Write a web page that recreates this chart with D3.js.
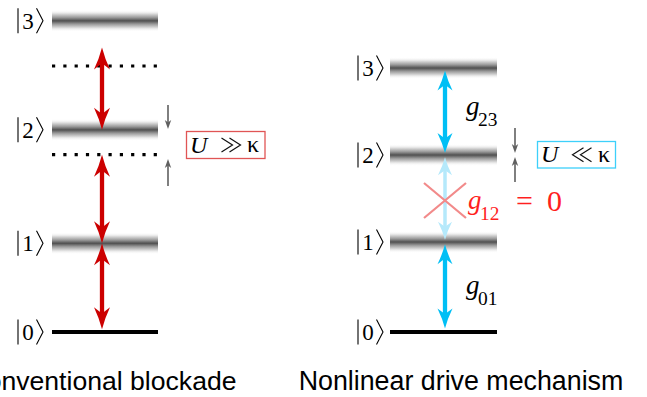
<!DOCTYPE html>
<html><head><meta charset="utf-8">
<script src="https://cdn.jsdelivr.net/npm/d3@7"></script>
<style>html,body{margin:0;padding:0;background:#fff;overflow:hidden}</style>
</head><body>
<svg id="c" width="647" height="397"></svg>
<script>
// ---- data ----
const kets = ["0", "1", "2", "3"];            // |n⟩ state labels
const leftLevels = [0, 1.0, 2.28, 3.51];      // anharmonic levels (blockade)
const leftHarmonic = [2, 3];                  // dotted harmonic reference levels
const leftArrows = [[3.21, 2.28], [2.0, 1.0], [1.0, 0.03]];
const rightLevels = [0, 1.015, 1.996, 2.977];
const rightArrows = [[2.95, 2.02], [0.99, 0.04]];
const rightFaded = [1.97, 1.04];
const couplings = ["g23", "g12", "g01"];
const titles = ["Conventional blockade", "Nonlinear drive mechanism"];
const boxLabels = [["U", "≫", "κ"], ["U", "≪", "κ"]];

const svg = d3.select("#c");
const y = d3.scaleLinear().domain([0, 3]).range([332, 66]);

const defs = svg.append("defs");
const gr = defs.append("linearGradient").attr("id", "lvl").attr("x1", 0).attr("x2", 0).attr("y1", 0).attr("y2", 1);
[[0, "#ffffff", 0], [0.15, "#e8e8e8", 1], [0.35, "#9a9a9a", 1], [0.5, "#505050", 1], [0.65, "#9a9a9a", 1], [0.85, "#e8e8e8", 1], [1, "#ffffff", 0]]
  .forEach(s => gr.append("stop").attr("offset", s[0]).attr("stop-color", s[1]).attr("stop-opacity", s[2]));

const serif = "'Liberation Serif','DejaVu Serif',serif";

function arrow(g, x, yTop, yBot, color, w, hw, hl) {
  g.append("line").attr("x1", x).attr("x2", x).attr("y1", yTop + hl * 0.6).attr("y2", yBot - hl * 0.6)
    .attr("stroke", color).attr("stroke-width", w);
  g.append("path").attr("fill", color)
    .attr("d", `M${x},${yTop} Q${x + hw * 0.35},${yTop + hl * 0.5} ${x + hw},${yTop + hl} L${x},${yTop + hl * 0.72} L${x - hw},${yTop + hl} Q${x - hw * 0.35},${yTop + hl * 0.5} ${x},${yTop}Z`);
  g.append("path").attr("fill", color)
    .attr("d", `M${x},${yBot} Q${x + hw * 0.35},${yBot - hl * 0.5} ${x + hw},${yBot - hl} L${x},${yBot - hl * 0.72} L${x - hw},${yBot - hl} Q${x - hw * 0.35},${yBot - hl * 0.5} ${x},${yBot}Z`);
}
function smallArrow(g, x, yFrom, yTip) {
  const d = yTip > yFrom ? 1 : -1;
  g.append("line").attr("x1", x).attr("x2", x).attr("y1", yFrom).attr("y2", yTip - d * 4)
    .attr("stroke", "#606060").attr("stroke-width", 1.6);
  g.append("path").attr("fill", "#606060")
    .attr("d", `M${x},${yTip} L${x - 3.2},${yTip - d * 9} L${x},${yTip - d * 6.5} L${x + 3.2},${yTip - d * 9}Z`);
}
function ket(g, xEnd, yc, txt) {
  const x0 = xEnd - 25;
  g.append("line").attr("x1", x0).attr("x2", x0).attr("y1", yc - 12.5).attr("y2", yc + 12.5)
    .attr("stroke", "#000").attr("stroke-width", 1.1);
  g.append("text").attr("x", x0 + 10).attr("y", yc + 8).attr("text-anchor", "middle")
    .attr("font-family", serif).attr("font-size", 23).text(txt);
  g.append("path").attr("fill", "none").attr("stroke", "#000").attr("stroke-width", 1.1)
    .attr("d", `M${xEnd - 6.5},${yc - 12.5} L${xEnd},${yc} L${xEnd - 6.5},${yc + 12.5}`);
}
function levels(g, x0, x1, lv, labelX) {
  lv.forEach((e, i) => {
    if (i === 0) {
      g.append("line").attr("x1", x0).attr("x2", x1).attr("y1", y(e)).attr("y2", y(e))
        .attr("stroke", "#000").attr("stroke-width", 4);
    } else {
      g.append("rect").attr("x", x0).attr("width", x1 - x0).attr("y", y(e) - 11).attr("height", 22)
        .attr("fill", "url(#lvl)");
    }
    ket(g, labelX, y(e), kets[i]);
  });
}
function box(g, x, yy, w, h, stroke, parts) {
  g.append("rect").attr("x", x).attr("y", yy).attr("width", w).attr("height", h)
    .attr("fill", "none").attr("stroke", stroke).attr("stroke-width", 1.3);
  const by = yy + h / 2 + 7.5;
  const cy = yy + h / 2;
  g.append("text").attr("x", x + 3.5).attr("y", by).attr("font-family", serif).attr("font-style", "italic")
    .attr("font-size", 24).text(parts[0]);
  // relation symbol (≫ / ≪) drawn as two thin nested chevrons, kept as accessible title text
  const rel = g.append("g");
  rel.append("title").text(parts[1]);
  const sx = parts[1] === "≫" ? 1 : -1;
  const cx = x + 44.5;
  [-4, 4].forEach(o => {
    const tip = cx + o + sx * 5.5, back = cx + o - sx * 5.5;
    rel.append("path").attr("fill", "none").attr("stroke", "#111").attr("stroke-width", 1.2)
      .attr("d", `M${back},${cy - 7} L${tip},${cy} L${back},${cy + 7}`);
  });
  g.append("text").attr("x", x + 60.5).attr("y", by - 0.5).attr("font-family", serif)
    .attr("font-size", 24).text(parts[2]);
}
function gLabel(g, x, yy, name, color, size) {
  g.append("text").attr("x", x).attr("y", yy).attr("font-family", serif).attr("font-style", "italic")
    .attr("font-size", size).attr("fill", color).text(name[0]);
  g.append("text").attr("x", x + 12).attr("y", yy + 11).attr("font-family", serif)
    .attr("font-size", size * 0.72).attr("fill", color).text(name.slice(1));
}

// ---- left panel ----
const L = svg.append("g");
levels(L, 52, 158, leftLevels, 43);
leftHarmonic.forEach(e => {
  L.append("line").attr("x1", 52).attr("x2", 158).attr("y1", y(e)).attr("y2", y(e))
    .attr("stroke", "#000").attr("stroke-width", 3.2).attr("stroke-dasharray", "3.2,8.1");
});
leftArrows.forEach(a => arrow(L, 102, y(a[0]), y(a[1]), "#cc0000", 4.3, 8, 22));
smallArrow(L, 168, 105, 129);
smallArrow(L, 168, 186, 159);
box(L, 186.5, 131.5, 78.5, 27, "#e05555", boxLabels[0]);
L.append("text").attr("x", 102).attr("y", 390).attr("text-anchor", "middle")
  .attr("font-family", "'Liberation Sans',Arial,sans-serif").attr("font-size", 26.6).text(titles[0]);

// ---- right panel ----
const R = svg.append("g");
levels(R, 390, 497, rightLevels, 383);
arrow(R, 445, y(rightFaded[0]), y(rightFaded[1]), "#b5e9fb", 3.5, 7, 18);
rightArrows.forEach(a => arrow(R, 445, y(a[0]), y(a[1]), "#00bff5", 4.3, 7.5, 20));
R.append("path").attr("stroke", "#f28a8a").attr("stroke-width", 2.2).attr("fill", "none")
  .attr("d", "M424,183 L466,218 M466,183 L424,218");
gLabel(R, 466, 115, couplings[0], "#000", 27);
gLabel(R, 468, 209, couplings[1], "#ff1f1f", 27);
R.append("text").attr("x", 516).attr("y", 211).attr("font-family", serif).attr("font-size", 30)
  .attr("fill", "#ff1f1f").text("=");
R.append("text").attr("x", 547).attr("y", 211).attr("font-family", serif).attr("font-size", 30)
  .attr("fill", "#ff1f1f").text("0");
gLabel(R, 466, 294, couplings[2], "#000", 27);
smallArrow(R, 515, 128, 153);
smallArrow(R, 515, 182, 157);
box(R, 537.5, 141.5, 78, 26.5, "#3dd0fa", boxLabels[1]);
R.append("text").attr("x", 461).attr("y", 390).attr("text-anchor", "middle")
  .attr("font-family", "'Liberation Sans',Arial,sans-serif").attr("font-size", 26.8).text(titles[1]);
</script>
</body></html>
